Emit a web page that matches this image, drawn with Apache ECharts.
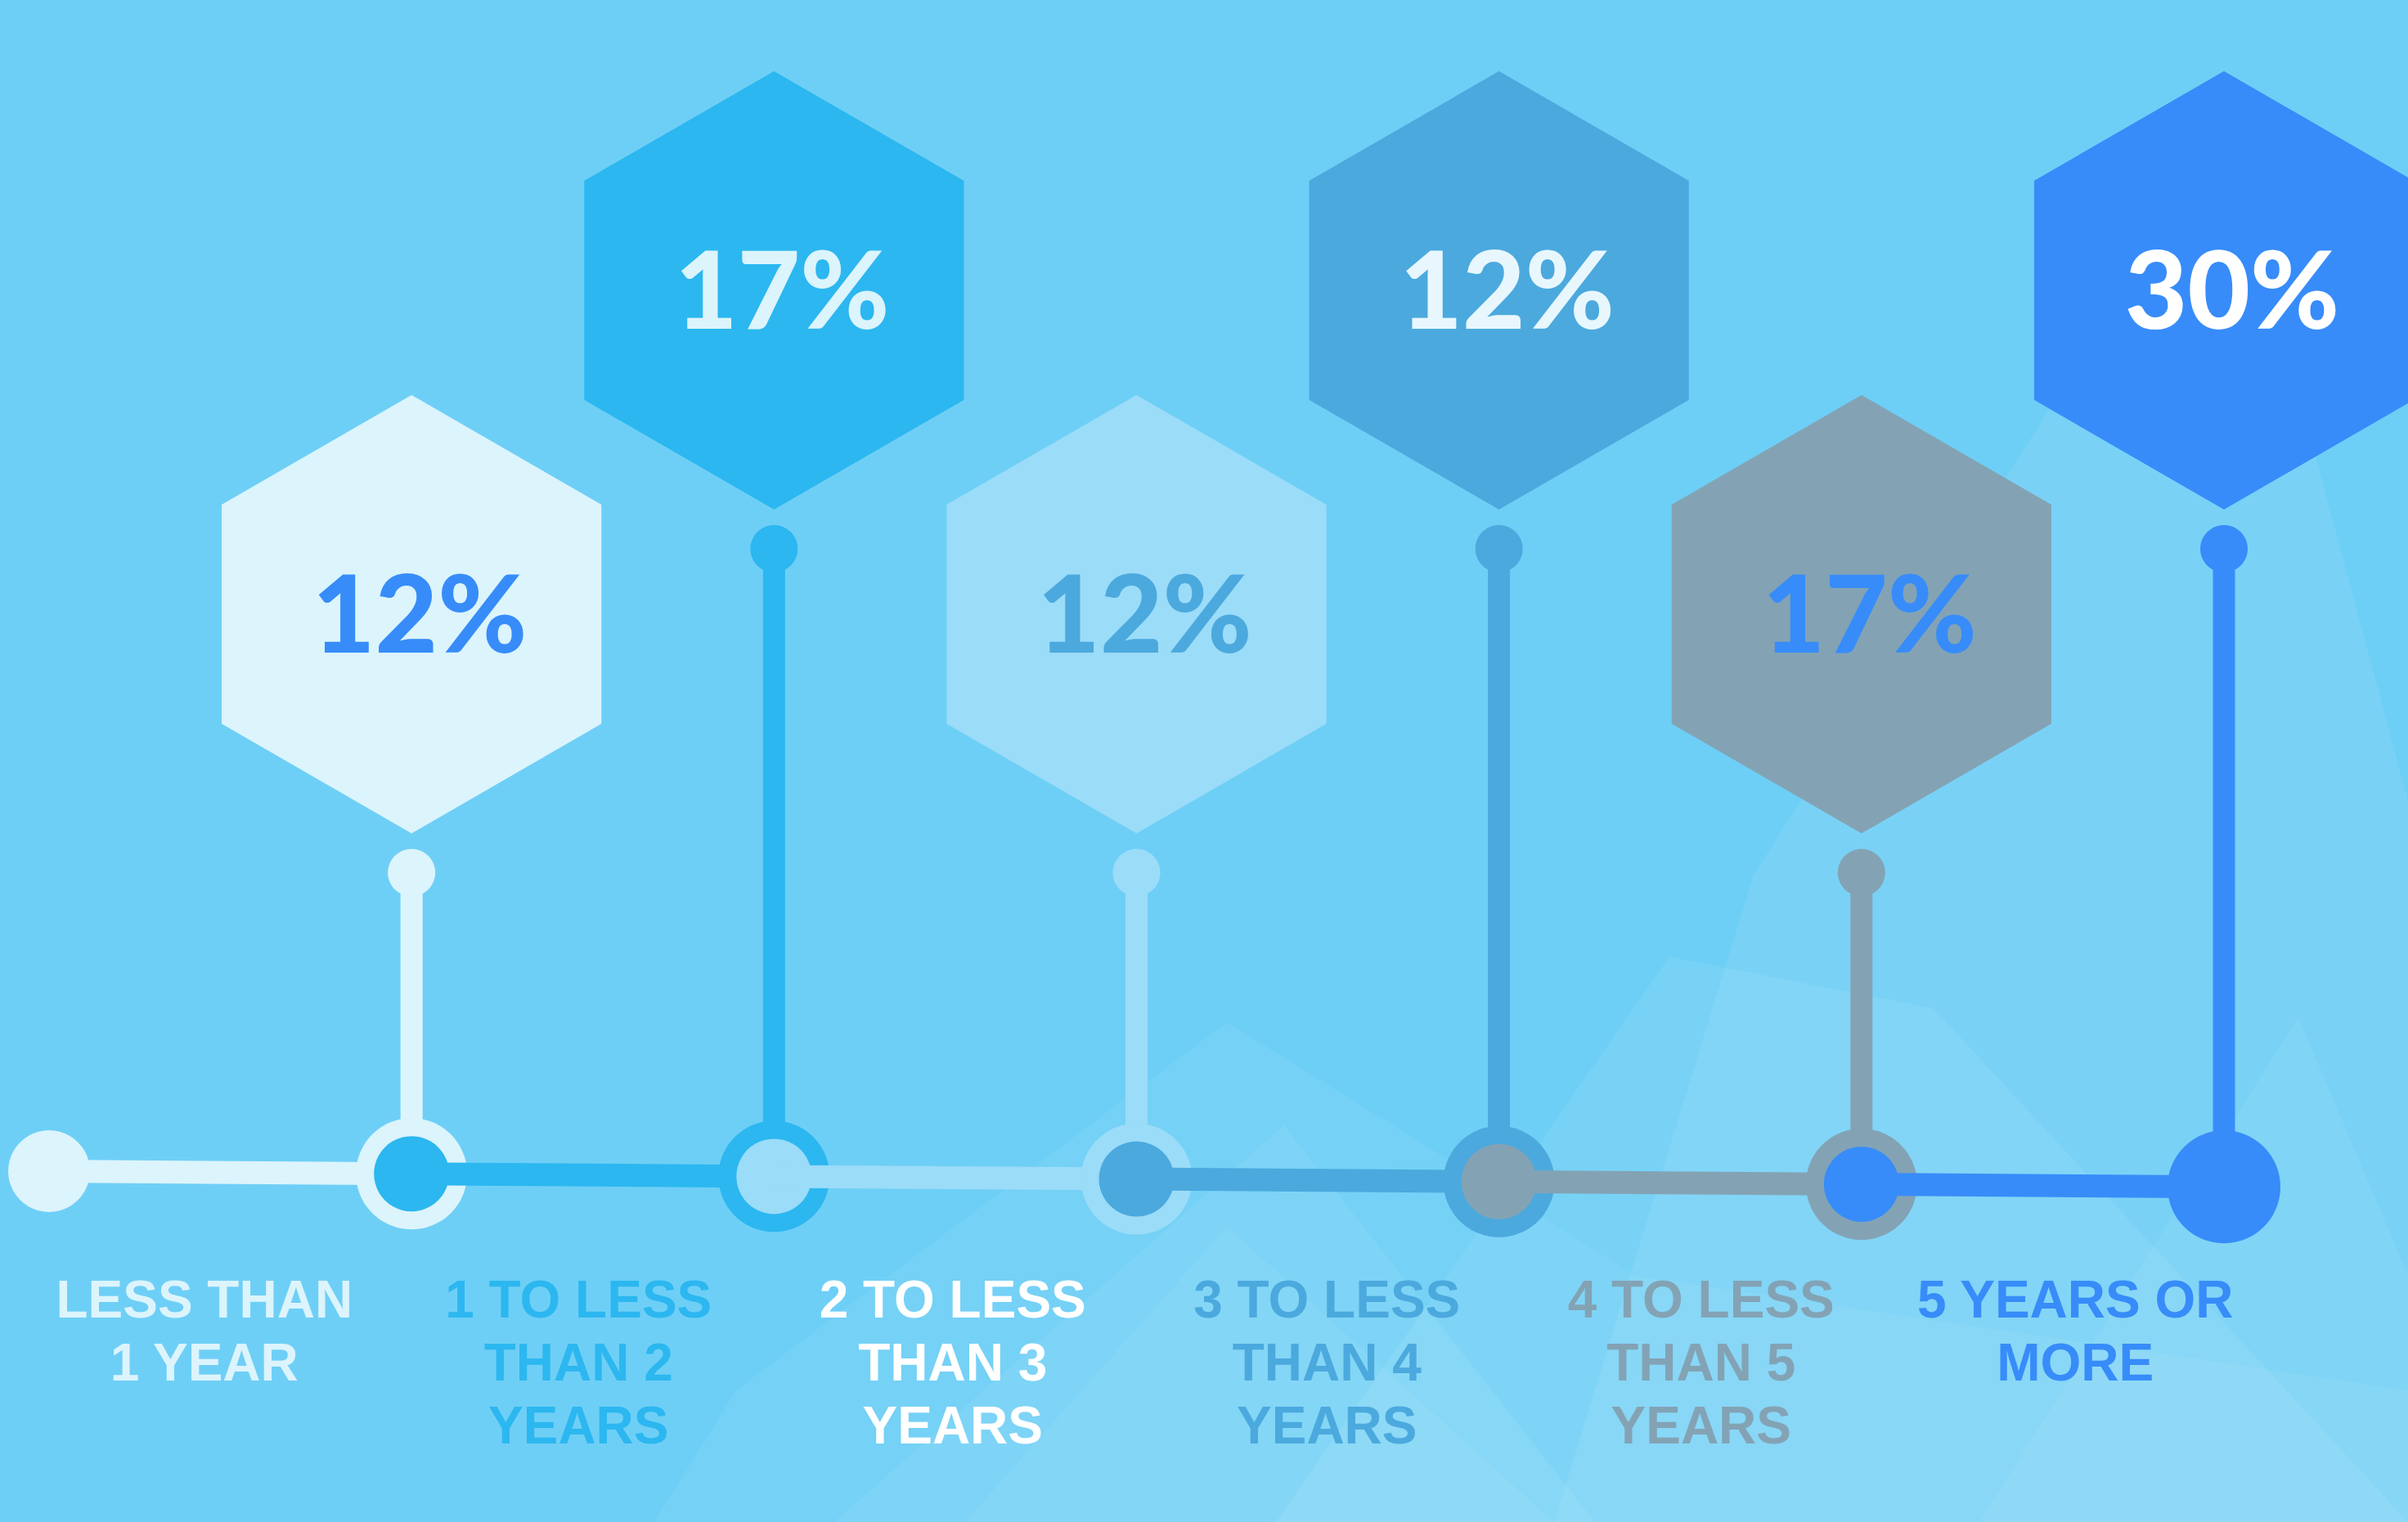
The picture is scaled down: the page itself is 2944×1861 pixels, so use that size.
<!DOCTYPE html>
<html>
<head>
<meta charset="utf-8">
<script src="https://cdn.jsdelivr.net/npm/echarts@6/dist/echarts.min.js"></script>
<style>
html,body{margin:0;padding:0;background:#6ecff6;}
#chart{width:2944px;height:1861px;}
</style>
</head>
<body>
<div id="chart"></div>
<script>
// ---- data ----
const categories = ['LESS THAN\n1 YEAR', '1 TO LESS\nTHAN 2\nYEARS', '2 TO LESS\nTHAN 3\nYEARS', '3 TO LESS\nTHAN 4\nYEARS', '4 TO LESS\nTHAN 5\nYEARS', '5 YEARS OR\nMORE'];
const percents = [12, 17, 12, 12, 17, 30];
const seriesColors = ['#dcf4fc', '#2cb7f0', '#9bdcf8', '#4ba9de', '#83a3b5', '#378cf9'];
const valueTextColors = ['#378cf9', '#dcf4fc', '#4ba9de', '#e8f7fd', '#378cf9', '#ffffff'];
const labelColors = ['#dcf4fc', '#2cb7f0', '#ffffff', '#4ba9de', '#83a3b5', '#378cf9'];

// ---- layout (styles) ----
const FONT = 'Lato, "Open Sans", sans-serif';
const LABEL_FONT = '"Liberation Sans", Arial, sans-serif';
const HEX_R = 268;
const HEX_LOW = 751, HEX_HIGH = 355;   // centre levels on the inverted layout axis
const DOT_GAP = 316;
const TL_BASE = 1432, TL_TILT = 3.2;
const tlY = k => TL_BASE + TL_TILT * k;

const hexData = percents.map((v, i) => [i + 1, i % 2 === 0 ? HEX_LOW : HEX_HIGH, v, i]);
const nodeData = [0, 1, 2, 3, 4, 5, 6].map(k => [k, tlY(k)]);

function hexPoints(cx, cy, r) {
  const pts = [];
  for (let j = 0; j < 6; j++) {
    const a = Math.PI / 180 * (60 * j - 90);
    pts.push([cx + r * Math.cos(a), cy + r * Math.sin(a)]);
  }
  return pts;
}

const chart = echarts.init(document.getElementById('chart'), null, {renderer: 'svg', width: 2944, height: 1861});

const bgShape = (pts, a) => ({type: 'polygon', z: -5, silent: true, shape: {points: pts}, style: {fill: 'rgba(255,255,255,' + a + ')'}});

const option = {
  backgroundColor: '#6ecff6',
  animation: false,
  graphic: [
    bgShape([[2506,500],[2830,555],[2944,980],[2944,1861],[1900,1861],[2144,1070]], 0.08),
    bgShape([[1570,1376],[1020,1861],[1950,1861]], 0.07),
    bgShape([[2041,1170],[2364,1233],[2944,1861],[1560,1861]], 0.07),
    bgShape([[2810,1244],[2944,1560],[2944,1861],[2420,1861]], 0.06),
    bgShape([[1180,1861],[1500,1500],[1900,1861]], 0.05),
    bgShape([[900,1700],[1500,1250],[2000,1560],[2944,1700],[2944,1861],[800,1861]], 0.05)
  ],
  grid: [
    {left: 60, right: 225, top: 0, bottom: 0},
    {left: 21, right: 178, top: 1480, height: 30}
  ],
  xAxis: [
    {gridIndex: 0, type: 'value', min: 0, max: 6, show: false},
    {gridIndex: 1, type: 'category', data: categories, position: 'bottom',
     axisLine: {show: false}, axisTick: {show: false}, splitLine: {show: false},
     axisLabel: {
       interval: 0, margin: 40, fontFamily: LABEL_FONT, fontWeight: 'bold', fontSize: 64, lineHeight: 77,
       color: (val, idx) => labelColors[idx], align: 'center'
     }}
  ],
  yAxis: [
    {gridIndex: 0, type: 'value', min: 0, max: 1861, inverse: true, show: false},
    {gridIndex: 1, type: 'value', show: false}
  ],
  series: [
    {
      type: 'custom', name: 'stems', xAxisIndex: 0, yAxisIndex: 0, z: 2,
      data: hexData,
      renderItem: (params, api) => {
        const x = api.value(0), level = api.value(1), i = api.value(3);
        const col = seriesColors[i];
        const c = api.coord([x, level]);
        const dot = api.coord([x, level + DOT_GAP]);
        const node = api.coord([x, tlY(x)]);
        return {
          type: 'group',
          children: [
            {type: 'line', shape: {x1: dot[0], y1: dot[1], x2: node[0], y2: node[1]}, style: {stroke: col, lineWidth: 27}},
            {type: 'circle', shape: {cx: dot[0], cy: dot[1], r: 29}, style: {fill: col}},
            {type: 'polygon', shape: {points: hexPoints(c[0], c[1], HEX_R)}, style: {fill: col}},
            {type: 'text', x: c[0] + 10, y: c[1] - 4, style: {
              text: api.value(2) + '%', fill: valueTextColors[i], font: '900 132px ' + FONT,
              align: 'center', verticalAlign: 'middle'}}
          ]
        };
      }
    },
    {
      type: 'custom', name: 'timeline', xAxisIndex: 0, yAxisIndex: 0, z: 3,
      data: nodeData,
      renderItem: (params, api) => {
        const k = api.value(0);
        const p = api.coord([k, api.value(1)]);
        const children = [];
        if (k === 0) {
          children.push({type: 'circle', shape: {cx: p[0], cy: p[1], r: 50}, style: {fill: seriesColors[0]}});
        } else if (k === 6) {
          children.push({type: 'circle', shape: {cx: p[0], cy: p[1], r: 69}, style: {fill: seriesColors[5]}});
        } else {
          children.push({type: 'circle', shape: {cx: p[0], cy: p[1], r: 68}, style: {fill: seriesColors[k - 1]}});
          children.push({type: 'circle', shape: {cx: p[0], cy: p[1], r: 46}, style: {fill: seriesColors[k]}});
        }
        if (k < 6) {
          const q = api.coord([k + 1, tlY(k + 1)]);
          children.push({type: 'line', shape: {x1: p[0], y1: p[1], x2: q[0], y2: q[1]}, style: {stroke: seriesColors[k], lineWidth: 28}});
        }
        return {type: 'group', children};
      }
    }
  ]
};
chart.setOption(option);
</script>
</body>
</html>
